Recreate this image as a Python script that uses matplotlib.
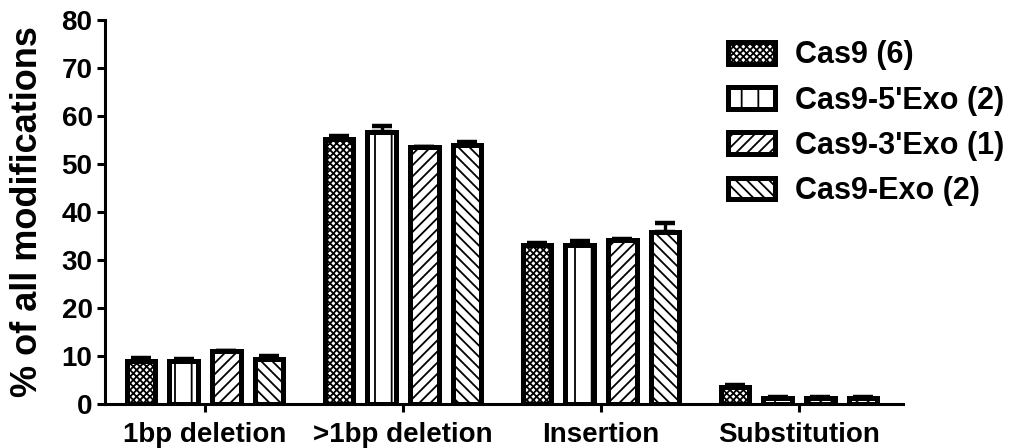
import numpy as np
import matplotlib
matplotlib.use('Agg')
import matplotlib.pyplot as plt
from matplotlib.patches import Patch

# data
categories = ['1bp deletion', '>1bp deletion', 'Insertion', 'Substitution']
series = ["Cas9 (6)", "Cas9-5'Exo (2)", "Cas9-3'Exo (1)", "Cas9-Exo (2)"]
cas9 = [8.9, 55.2, 33.0, 3.5]
cas9_5exo = [9.0, 56.6, 33.2, 1.2]
cas9_3exo = [10.9, 53.5, 34.2, 1.2]
cas9_exo = [9.4, 54.0, 35.8, 1.1]
cas9_err = [0.7, 0.6, 0.6, 0.5]
cas9_5exo_err = [0.4, 1.4, 0.8, 0.3]
cas9_3exo_err = [0.1, 0.1, 0.1, 0.2]
cas9_exo_err = [0.6, 0.6, 1.8, 0.4]

values = [cas9, cas9_5exo, cas9_3exo, cas9_exo]
errors = [cas9_err, cas9_5exo_err, cas9_3exo_err, cas9_exo_err]
hatches = ['xxxxx', '|', '///', '\\\\\\']

plt.rcParams['font.family'] = ['Liberation Sans', 'DejaVu Sans']
plt.rcParams['font.weight'] = 'bold'
plt.rcParams['hatch.linewidth'] = 1.3

fig = plt.figure(figsize=(10.13, 4.48), dpi=100)
ax = fig.add_axes([0.1037, 0.0989, 0.7877, 0.8561])

x = np.arange(len(categories))
pitch = 0.2156
width = 0.145
for i in range(len(series)):
    pos = x + (i - 1.5) * pitch
    ax.bar(pos, values[i], width, color='white', edgecolor='black',
           linewidth=3.6, hatch=hatches[i], zorder=2)
    ax.errorbar(pos, values[i], yerr=[np.zeros(len(categories)), errors[i]],
                fmt='none', ecolor='black', elinewidth=2.4, capsize=7.5,
                capthick=3.2, zorder=3)

ax.set_xlim(-0.505, 3.525)
ax.set_ylim(0, 80)
ax.set_yticks(range(0, 81, 10))
ax.set_xticks(x)
ax.set_xticklabels(categories)

for side in ['top', 'right']:
    ax.spines[side].set_visible(False)
for side in ['left', 'bottom']:
    ax.spines[side].set_linewidth(2.2)
ax.tick_params(axis='both', width=2.2, length=6, labelsize=20)
ax.tick_params(axis='y', pad=3)
ax.tick_params(axis='x', pad=7)
for lab in ax.get_xticklabels() + ax.get_yticklabels():
    lab.set_fontweight('bold')

ax.set_ylabel('% of all modifications', fontsize=26, fontweight='bold')
ax.yaxis.set_label_coords(-0.075, 0.5)

handles = [Patch(facecolor='white', edgecolor='black', linewidth=3.6, hatch=h)
           for h in hatches]
leg = fig.legend(handles, series, loc='upper left',
                 bbox_to_anchor=(0.7187, 0.91), frameon=False,
                 fontsize=22, handlelength=1.54, handleheight=0.72,
                 handletextpad=0.65, labelspacing=0.5, borderpad=0,
                 borderaxespad=0)
for t in leg.get_texts():
    t.set_fontweight('bold')

fig.savefig('out.png', dpi=100, facecolor='white')
